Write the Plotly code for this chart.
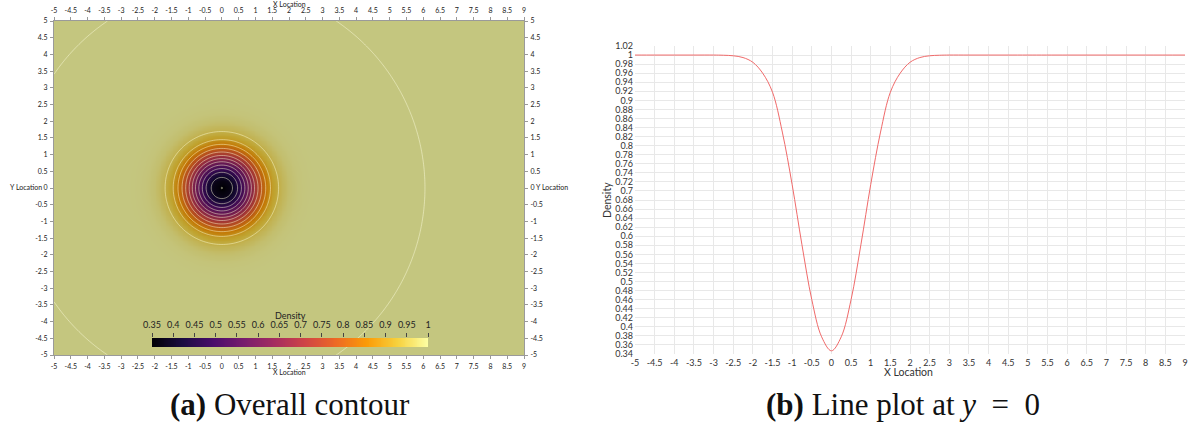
import numpy as np
import plotly.graph_objects as go

W, H = 1195, 429

# ---------------- data ----------------
# panel (b): density along y = 0
line_x = [-5, -4.5, -4, -3.5, -3, -2.75, -2.5, -2.25, -2, -1.75, -1.5, -1.25, -1, -0.75, -0.5, -0.25, 0,
          0.25, 0.5, 0.75, 1, 1.25, 1.5, 1.75, 2, 2.25, 2.5, 2.75, 3, 3.5, 4, 4.5, 5, 6, 7, 8, 9]
line_density = [1, 1, 1, 1, 1.0, 0.9996, 0.9984, 0.9945, 0.984, 0.960, 0.918, 0.830, 0.714, 0.581, 0.460, 0.378, 0.347,
                0.378, 0.460, 0.581, 0.714, 0.830, 0.918, 0.960, 0.984, 0.9945, 0.9984, 0.9996, 1.0,
                1, 1, 1, 1, 1, 1, 1, 1]

# panel (a): domain, contour levels, outer (near-unity) contour radius
domain_x = [-5, 9]
domain_y = [-5, 5]
contour_levels = [0.35, 0.40, 0.45, 0.50, 0.55, 0.60, 0.65, 0.70, 0.75, 0.80, 0.85, 0.90, 0.95]
outer_contour_radius = 6.05
density_range = [0.35, 1.0]

# tick values / labels
xy_ticks_a_x = [round(-5 + 0.5 * i, 1) for i in range(29)]
xy_ticks_a_y = [round(-5 + 0.5 * i, 1) for i in range(21)]
cbar_ticks = [round(0.35 + 0.05 * i, 2) for i in range(14)]
b_x_ticks = [round(-5 + 0.5 * i, 1) for i in range(29)]
b_y_ticks = [round(0.34 + 0.02 * i, 2) for i in range(35)]


def lab(vals):
    return ['%g' % v for v in vals]


# ---------------- build field from the radial profile ----------------
r_profile = [x for x in line_x if x >= 0]
rho_profile = [d for x, d in zip(line_x, line_density) if x >= 0]
gx = np.linspace(domain_x[0], domain_x[1], 281)
gy = np.linspace(domain_y[0], domain_y[1], 201)
GX, GY = np.meshgrid(gx, gy)
R = np.sqrt(GX ** 2 + GY ** 2)
Z = np.interp(R, r_profile, rho_profile)

inferno = ['#000004', '#1b0c41', '#4a0c6b', '#781c6d', '#a52c60',
           '#cf4446', '#ed6925', '#fb9b06', '#f7d13d', '#fcffa4']


def darken(hexc, f):
    h = hexc.lstrip('#')
    r, g, b = (int(h[i:i + 2], 16) for i in (0, 2, 4))
    return 'rgb(%d,%d,%d)' % (r * f, g * f, b * f)


n = len(inferno)
cs_bar = [[i / (n - 1), c] for i, c in enumerate(inferno)]
cs_field = [[i / (n - 1), darken(c, 0.78)] for i, c in enumerate(inferno)]


def px(x):
    return x / W


def py(y):
    return 1 - y / H


fig = go.Figure()

fig.add_trace(go.Heatmap(x=gx, y=gy, z=Z, colorscale=cs_field, zmin=density_range[0], zmax=density_range[1],
                         zsmooth='best', showscale=False, hoverinfo='skip', xaxis='x', yaxis='y'))
fig.add_trace(go.Contour(x=gx, y=gy, z=Z, autocontour=False,
                         contours=dict(start=contour_levels[0], end=contour_levels[-1] + 0.001,
                                       size=round(contour_levels[1] - contour_levels[0], 2), coloring='none'),
                         line=dict(color='rgba(255,255,215,0.6)', width=0.8, smoothing=1),
                         showscale=False, hoverinfo='skip', xaxis='x', yaxis='y'))
fig.add_trace(go.Contour(x=gx, y=gy, z=R, autocontour=False,
                         contours=dict(start=outer_contour_radius, end=outer_contour_radius, size=1, coloring='none'),
                         line=dict(color='rgba(255,255,225,0.6)', width=0.8, smoothing=1),
                         showscale=False, hoverinfo='skip', xaxis='x', yaxis='y'))
# empty traces to activate top/right mirrored axes
fig.add_trace(go.Scatter(x=[], y=[], xaxis='x4', yaxis='y', showlegend=False, hoverinfo='skip'))
fig.add_trace(go.Scatter(x=[], y=[], xaxis='x', yaxis='y4', showlegend=False, hoverinfo='skip'))

# colour bar as a ramp
ramp = np.linspace(density_range[0], density_range[1], 300)
fig.add_trace(go.Heatmap(x=ramp, y=[0], z=[ramp], colorscale=cs_bar, zmin=density_range[0], zmax=density_range[1],
                         showscale=False, hoverinfo='skip', xaxis='x3', yaxis='y3'))

# line plot
fig.add_trace(go.Scatter(x=line_x, y=line_density, mode='lines', line=dict(color='#f06a6a', width=1, shape='spline'),
                         showlegend=False, xaxis='x2', yaxis='y2', hoverinfo='skip'))

tfa = dict(family='Lato', size=7, color='#222')
ax_a = dict(range=domain_x, tickmode='array', tickvals=xy_ticks_a_x, ticktext=lab(xy_ticks_a_x),
            ticks='outside', ticklen=3, tickcolor='#999', showline=True, linecolor='#9a9a9a', linewidth=1.2,
            showgrid=False, zeroline=False, tickfont=tfa, ticklabelstandoff=1, automargin=False)
ay_a = dict(range=domain_y, tickmode='array', tickvals=xy_ticks_a_y, ticktext=lab(xy_ticks_a_y),
            ticks='outside', ticklen=3, tickcolor='#999', showline=True, linecolor='#9a9a9a', linewidth=1.2,
            showgrid=False, zeroline=False, tickfont=tfa, ticklabelstandoff=1, automargin=False)

dom_ax = [px(54), px(524)]
dom_ay = [py(355), py(21)]

tfb = dict(family='Lato', size=9, color='#333')

fig.update_layout(
    width=W, height=H, margin=dict(l=0, r=0, t=0, b=0, pad=0, autoexpand=False),
    paper_bgcolor='white', plot_bgcolor='rgba(0,0,0,0)', showlegend=False,
    xaxis=dict(domain=dom_ax, anchor='y', side='bottom', **ax_a),
    yaxis=dict(domain=dom_ay, anchor='x', side='left', **ay_a),
    xaxis4=dict(overlaying='x', anchor='y', side='top', **ax_a),
    yaxis4=dict(overlaying='y', anchor='x', side='right', **ay_a),
    xaxis3=dict(domain=[px(152), px(428)], anchor='y3', side='top', range=density_range, tickmode='array',
                tickvals=cbar_ticks, ticktext=lab(cbar_ticks), ticks='outside', ticklen=4, tickcolor='#444',
                tickfont=dict(family='Lato', size=9, color='#222'), showgrid=False, zeroline=False, showline=False,
                ticklabelstandoff=1, automargin=False),
    yaxis3=dict(domain=[py(347), py(338)], anchor='x3', range=[-0.5, 0.5], showticklabels=False, ticks='',
                showgrid=False, zeroline=False, automargin=False),
    xaxis2=dict(domain=[px(635), px(1185)], anchor='y2', range=domain_x, tickmode='array', tickvals=b_x_ticks,
                ticktext=lab(b_x_ticks), ticks='', showgrid=True, gridcolor='#e8e8e8', gridwidth=1,
                zeroline=False, showline=False, tickfont=tfb, ticklabelstandoff=2, automargin=False),
    yaxis2=dict(domain=[py(354), py(46)], anchor='x2', range=[b_y_ticks[0], b_y_ticks[-1]], tickmode='array',
                tickvals=b_y_ticks, ticktext=lab(b_y_ticks), ticks='', showgrid=True, gridcolor='#e8e8e8',
                gridwidth=1, zeroline=False, showline=False, tickfont=tfb, ticklabelstandoff=1, automargin=False),
)

ann = []
sf = dict(family='Lato', size=7, color='#222')
ann.append(dict(x=px(289), y=py(4), text='X Location', font=sf))
ann.append(dict(x=px(289), y=py(372), text='X Location', font=sf))
ann.append(dict(x=px(44), y=py(187), text='Y Location', font=sf, xanchor='right'))
ann.append(dict(x=px(534), y=py(187), text='Y Location', font=sf, xanchor='left'))
ann.append(dict(x=px(290), y=py(315), text='Density', font=dict(family='Lato', size=9, color='#222')))
ann.append(dict(x=px(908), y=py(372), text='X Location', font=dict(family='Lato', size=10.5, color='#333')))
ann.append(dict(x=px(607), y=py(200), text='Density', textangle=-90, font=dict(family='Lato', size=10.5, color='#333')))
cf = dict(family='Liberation Serif', size=31, color='#111')
ann.append(dict(x=px(290), y=py(404), text='<b>(a)</b> Overall contour', font=cf))
ann.append(dict(x=px(903), y=py(404), text='<b>(b)</b> Line plot at <i>y</i>&nbsp;&nbsp;=&nbsp;&nbsp;0', font=cf))
for a in ann:
    a.update(xref='paper', yref='paper', showarrow=False)
    a.setdefault('xanchor', 'center')
    a.setdefault('yanchor', 'middle')
fig.update_layout(annotations=ann)

fig.write_html('out.html')
